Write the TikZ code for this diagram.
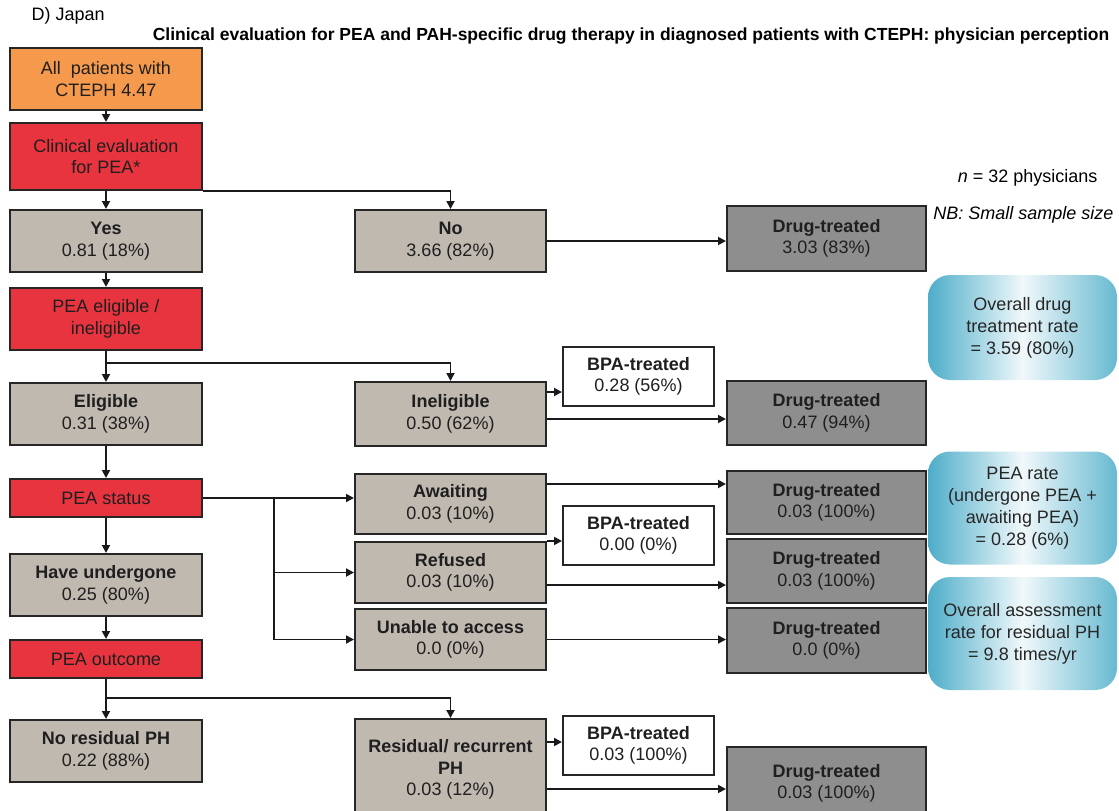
\documentclass[tikz,border=0pt]{standalone}
\usepackage{fontspec}
\setmainfont{Liberation Sans}
\usetikzlibrary{arrows.meta}

\definecolor{ptorange}{HTML}{F5994D}
\definecolor{ptred}{HTML}{E8343F}
\definecolor{ptgray}{HTML}{BFB9B0}
\definecolor{druggray}{HTML}{8E8E8E}
\definecolor{calloutblue}{HTML}{4DADC9}

\begin{document}
\begin{tikzpicture}[x=1pt, y=-1pt,
    box/.style={draw=black!85, line width=2pt, align=center, inner sep=2pt,
        text=black!88, font=\fontsize{18}{21.5}\selectfont},
    orangebox/.style={box, fill=ptorange, minimum width=192pt},
    redbox/.style={box, fill=ptred, minimum width=192pt},
    graybox/.style={box, fill=ptgray, minimum width=192pt},
    midbox/.style={box, fill=ptgray, minimum width=191pt},
    bpabox/.style={box, fill=white, minimum width=151pt, minimum height=59pt},
    drugbox/.style={box, fill=druggray, minimum width=199pt},
    callout/.style={rounded corners=22pt, left color=calloutblue, right color=calloutblue!85,
        middle color=calloutblue!8, align=center, minimum width=189pt,
        text=black!85, font=\fontsize{18}{22}\selectfont},
    arr/.style={line width=1.8pt, black!90, -{Triangle[length=8pt,width=8pt]}}]
    \useasboundingbox (0,0) rectangle (1119,811);
    \clip (0,0) rectangle (1119,811);

    % Headings
    \node[anchor=west, font=\fontsize{18}{21}\selectfont] (panel) at (28,16) {D) Japan};
    \node[font=\bfseries\fontsize{17.5}{20}\selectfont] (title) at (631,36)
        {Clinical evaluation for PEA and PAH-specific drug therapy in diagnosed patients with CTEPH: physician perception};
    \node[anchor=east, font=\fontsize{18}{21}\selectfont] (nphys) at (1101,178) {\textit{n} = 32 physicians};
    \node[anchor=east, font=\itshape\fontsize{18}{21}\selectfont] (nb) at (1117,215) {NB: Small sample size};

    % Left column
    \node[orangebox, minimum height=62pt] (allpat) at (106,79) {All\ \ patients with\\CTEPH 4.47};
    \node[redbox, minimum height=67pt] (clineval) at (106,156.5) {Clinical evaluation\\for PEA*};
    \node[graybox, minimum height=62pt] (yes) at (106,241) {\textbf{Yes}\\0.81 (18\%)};
    \node[redbox, minimum height=62pt] (eligq) at (106,319) {PEA eligible /\\ineligible};
    \node[graybox, minimum height=62pt] (elig) at (106,414) {\textbf{Eligible}\\0.31 (38\%)};
    \node[redbox, minimum height=38pt] (status) at (106,498) {PEA status};
    \node[graybox, minimum height=62pt] (undergone) at (106,585) {\textbf{Have undergone}\\0.25 (80\%)};
    \node[redbox, minimum height=38pt] (outcome) at (106,659) {PEA outcome};
    \node[graybox, minimum height=62pt] (nores) at (106,751) {\textbf{No residual PH}\\0.22 (88\%)};

    % Middle column
    \node[midbox, minimum height=62pt] (no) at (450.5,241) {\textbf{No}\\3.66 (82\%)};
    \node[midbox, minimum height=64pt] (inel) at (450.5,414) {\textbf{Ineligible}\\0.50 (62\%)};
    \node[midbox, minimum height=60pt] (await) at (450.5,504) {\textbf{Awaiting}\\0.03 (10\%)};
    \node[midbox, minimum height=61pt] (refused) at (450.5,572.5) {\textbf{Refused}\\0.03 (10\%)};
    \node[midbox, minimum height=61pt] (unable) at (450.5,639.5) {\textbf{Unable to access}\\0.0 (0\%)};
    \node[midbox, minimum height=101pt] (resid) at (450.5,769.5)
        {\textbf{Residual/ recurrent}\\\textbf{PH}\\0.03 (12\%)};

    % BPA-treated
    \foreach \nm/\y/\val in {one/376.5/0.28 (56\%), two/535.5/0.00 (0\%), three/745.5/0.03 (100\%)} {
        \node[bpabox] (bpa\nm) at (638.5,\y) {\textbf{BPA-treated}\\\val};
    }

    % Drug-treated
    \foreach \nm/\y/\h/\val in {one/238.5/65/3.03 (83\%), two/413/64/0.47 (94\%),
            await/502.5/63/0.03 (100\%), ref/571/64/0.03 (100\%),
            unable/640.5/65/0.0 (0\%), res/783.5/73/0.03 (100\%)} {
        \node[drugbox, minimum height=\h pt] (drug\nm) at (826.5,\y) {\textbf{Drug-treated}\\\val};
    }

    % Callouts
    \node[callout, minimum height=105pt] (drugrate) at (1022.5,327.5) {Overall drug\\treatment rate\\= 3.59 (80\%)};
    \node[callout, minimum height=113pt] (pearate) at (1022.5,508) {PEA rate\\(undergone PEA +\\awaiting PEA)\\= 0.28 (6\%)};
    \node[callout, minimum height=113pt] (assess) at (1022.5,633.5) {Overall assessment\\rate for residual PH\\= 9.8 times/yr};

    % Left column arrows
    \draw[arr] (allpat) -- (clineval);
    \draw[arr] (clineval) -- (yes);
    \draw[arr] (yes) -- (eligq);
    \draw[arr] (eligq) -- (elig);
    \draw[arr] (elig) -- (status);
    \draw[arr] (status) -- (undergone);
    \draw[arr] (undergone) -- (outcome);
    \draw[arr] (outcome) -- (nores);

    % Branches
    \draw[arr] (clineval.south east) -| (no.north);
    \draw[arr] (eligq.south) ++(0,12) -| (inel.north);
    \draw[arr] (outcome.south) ++(0,19) -| (resid.north);
    \coordinate (stsplit) at ([xshift=71pt]status.east);
    \draw[arr] (status.east) -- (status.east -| await.west);
    \draw[arr] (stsplit) |- (refused.west);
    \draw[arr] (stsplit) |- (unable.west);

    % To treatment
    \draw[arr] (no.east) -- (no.east -| drugone.west);
    \draw[arr] ([yshift=22pt]inel.east) -- ([yshift=22pt]inel.east -| bpaone.west);
    \draw[arr] ([yshift=-5pt]inel.east) -- ([yshift=-5pt]inel.east -| drugtwo.west);
    \draw[arr] ([yshift=20pt]await.east) -- ([yshift=20pt]await.east -| drugawait.west);
    \draw[arr] (refused.north east) -- (refused.north east -| bpatwo.west);
    \draw[arr] ([yshift=-12.5pt]refused.east) -- ([yshift=-12.5pt]refused.east -| drugref.west);
    \draw[arr] (unable.east) -- (unable.east -| drugunable.west);
    \draw[arr] ([yshift=27.5pt]resid.east) -- ([yshift=27.5pt]resid.east -| bpathree.west);
    \draw[arr] ([yshift=-19.5pt]resid.east) -- ([yshift=-19.5pt]resid.east -| drugres.west);
\end{tikzpicture}
\end{document}
